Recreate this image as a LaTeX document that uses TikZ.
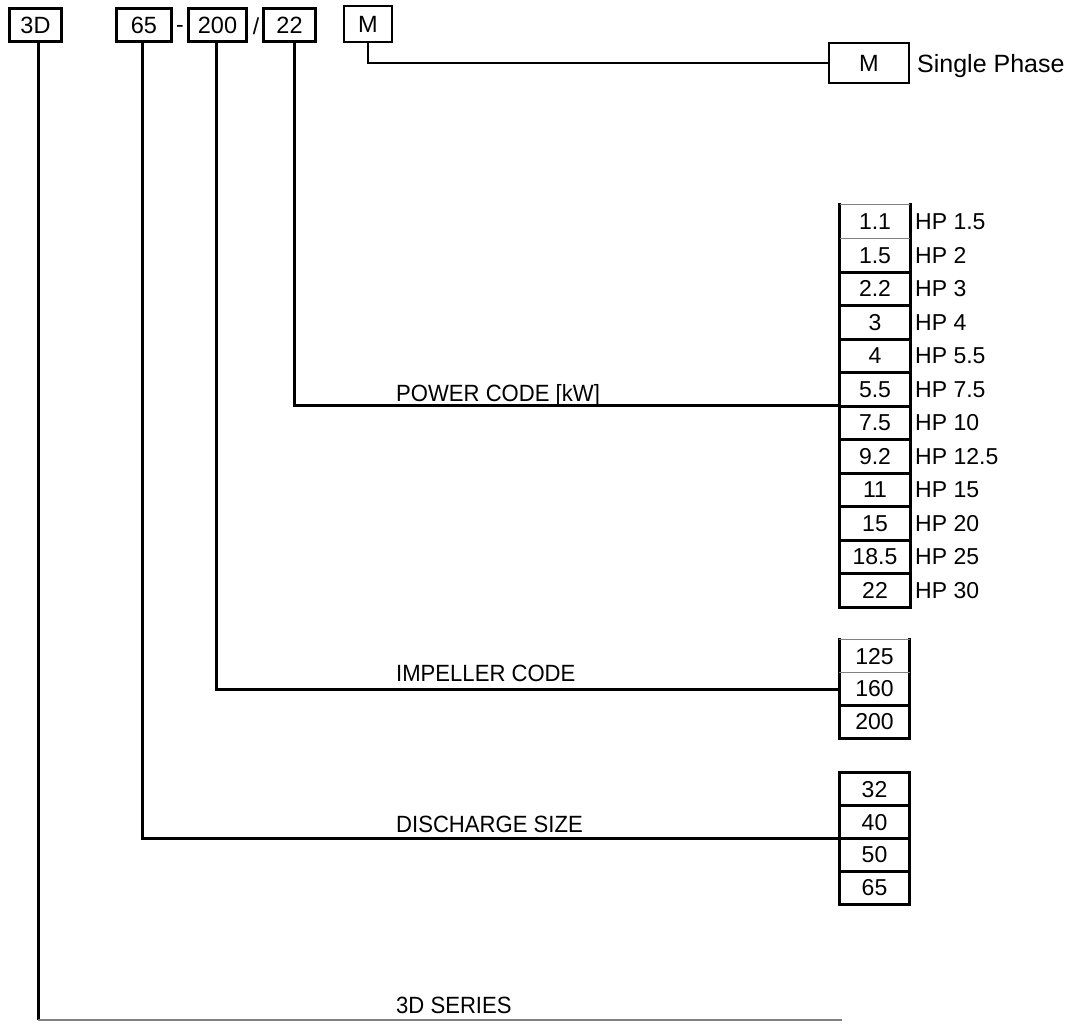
\documentclass[tikz,border=0pt]{standalone}
\usepackage{fontspec}
\setmainfont{Liberation Sans}
\newfontfamily\condfont{Liberation Sans}[FakeStretch=0.94]
\begin{document}
\begin{tikzpicture}[x=1pt,y=-1pt,
  txt/.style={font=\fontsize{23}{26}\selectfont, inner sep=0pt},
  lbl/.style={inner sep=0pt, anchor=base west, font=\condfont\fontsize{23.5}{26}\selectfont},
  topbox/.style={draw, line width=3pt, minimum height=33, inner sep=0pt, font=\fontsize{23.5}{26}\selectfont},
  thinbox/.style={draw, line width=2pt, inner sep=0pt, font=\fontsize{23.5}{26}\selectfont},
  cell/.style={minimum width=70, minimum height=33.5, inner sep=0pt, font=\fontsize{23}{26}\selectfont},
  frame/.style={line width=3pt, line cap=rect},
  sepline/.style={line width=1.2pt, gray},
  conn/.style={line width=3pt}
]
\useasboundingbox (0,0) rectangle (1081,1023);
% top code boxes
\node[topbox, minimum width=52] (t3D) at (35.5,25) {3D};
\node[topbox, minimum width=55] (t65) at (144,25) {65};
\node[txt] (dash) at (180,29) {-};
\node[topbox, minimum width=58] (t200) at (217.5,25) {200};
\node[txt] (slash) at (256,26) {/};
\node[topbox, minimum width=52] (t22) at (289.5,25) {22};
\node[thinbox, minimum width=48, minimum height=36] (tM) at (368,24) {M};
% single phase
\node[thinbox, minimum width=80, minimum height=40] (rM) at (869,63) {M};
\node[txt, anchor=west, font=\fontsize{25}{28}\selectfont] (sp) at (917,66) {Single Phase};
% power column
\foreach \v/\h [count=\i] in {1.1/1.5, 1.5/2, 2.2/3, 3/4, 4/5.5, 5.5/7.5, 7.5/10, 9.2/12.5, 11/15, 15/20, 18.5/25, 22/30} {
  \pgfmathsetmacro{\yy}{221.75+33.5*(\i-1)}
  \node[cell] (p\i) at (875,\yy) {\v};
  \node[txt, anchor=west] (hp\i) at (915,\yy) {HP \h};
}
\draw[frame] (p1.north west) -- (p12.south west) -- (p12.south east) -- (p1.north east);
\foreach \i in {2,...,11} \draw[frame] (p\i.south west) -- (p\i.south east);
\draw[sepline] (p1.north west) -- (p1.north east);
\draw[sepline] (p1.south west) -- (p1.south east);
% impeller column
\foreach \v [count=\i] in {125,160,200} {
  \pgfmathsetmacro{\yy}{656.3+32.7*(\i-1)}
  \node[cell, minimum height=32.7] (i\i) at (874.5,\yy) {\v};
}
\draw[frame] (i1.north west) -- (i3.south west) -- (i3.south east) -- (i1.north east);
\draw[frame] (i2.south west) -- (i2.south east);
\draw[sepline] (i1.north west) -- (i1.north east);
\draw[sepline] (i1.south west) -- (i1.south east);
% discharge column
\foreach \v [count=\i] in {32,40,50,65} {
  \pgfmathsetmacro{\yy}{789.4+32.75*(\i-1)}
  \node[cell, minimum height=32.75] (d\i) at (874.5,\yy) {\v};
}
\draw[frame] (d1.north west) rectangle (d4.south east);
\foreach \i in {1,2,3} \draw[frame] (d\i.south west) -- (d\i.south east);
% connectors
\draw[line width=2.2pt] (tM.south) |- (rM.west);
\draw[conn] ([xshift=5]t22.south) |- (p7.north west);
\draw[conn] ([xshift=-1.5]t200.south) |- (i2.west);
\draw[conn] ([xshift=-2]t65.south) |- (d3.north west);
\coordinate (c3d) at (38,1020);
\coordinate (e3d) at (842,1020);
\draw[conn] ([xshift=2.5]t3D.south) -- (c3d);
\draw[line width=1.8pt, gray] (c3d) -- (e3d);
% labels
\node[lbl] (lpow) at (396,401) {POWER CODE [kW]};
\node[lbl] (limp) at (396,681) {IMPELLER CODE};
\node[lbl] (ldis) at (396,832) {DISCHARGE SIZE};
\node[lbl] (lser) at (396,1013) {3D SERIES};
\end{tikzpicture}
\end{document}
